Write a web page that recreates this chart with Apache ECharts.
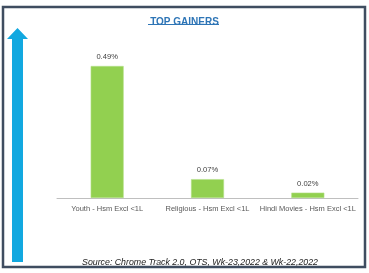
<!DOCTYPE html>
<html><head><meta charset="utf-8">
<script src="https://cdn.jsdelivr.net/npm/echarts@6/dist/echarts.min.js"></script>
<style>html,body{margin:0;padding:0;background:#fff}#c{width:369px;height:273px}</style>
</head><body><div id="c"></div>
<script>
const categories = ["Youth - Hsm Excl <1L", "Religious - Hsm Excl <1L", "Hindi Movies - Hsm Excl <1L"];
const values = [0.49, 0.07, 0.02];
const titleText = "TOP GAINERS";
const sourceText = "Source: Chrome Track 2.0, OTS, Wk-23,2022 & Wk-22,2022";

const chart = echarts.init(document.getElementById('c'), null, {renderer: 'canvas'});
chart.setOption({
  animation: false,
  title: [
    {text: titleText, left: 'center', top: 12,
     textStyle: {fontFamily: 'Liberation Sans', fontSize: 10, fontWeight: 'bold', color: '#2e75b6'}},
    {text: sourceText, left: 195, textAlign: 'center', top: 253,
     textStyle: {fontFamily: 'Liberation Sans', fontSize: 8.8, fontStyle: 'italic', fontWeight: 'normal', color: '#222'}}
  ],
  grid: {left: 57, right: 11, top: 63.3, bottom: 75},
  xAxis: {
    type: 'category', data: categories,
    axisLine: {lineStyle: {color: '#bfbfbf', width: 1}},
    axisTick: {show: false},
    axisLabel: {fontFamily: 'Liberation Sans', fontSize: 7.5, color: '#595959', margin: 7, interval: 0}
  },
  yAxis: {type: 'value', min: 0, max: 0.5, show: false, splitLine: {show: false}},
  series: [{
    type: 'bar', data: values, barWidth: 33,
    itemStyle: {color: '#92d050', borderColor: '#b6e08a', borderWidth: 0.6},
    label: {show: true, position: 'top', distance: 5,
      formatter: p => p.value.toFixed(2) + '%',
      fontFamily: 'Liberation Sans', fontSize: 7.6, color: '#404040'}
  }],
  graphic: [
    {type: 'rect', shape: {x: 3, y: 7, width: 362, height: 260}, z: 100,
     style: {fill: 'none', stroke: '#3f4d60', lineWidth: 2.5}},
    {type: 'line', shape: {x1: 148, y1: 24.5, x2: 219, y2: 24.5},
     style: {stroke: '#2e75b6', lineWidth: 1}},
    {type: 'polygon', shape: {points: [[17.5, 28], [28, 39], [23, 39], [23, 262], [12, 262], [12, 39], [7, 39]]},
     style: {fill: '#12a8e0'}}
  ]
});
</script></body></html>
